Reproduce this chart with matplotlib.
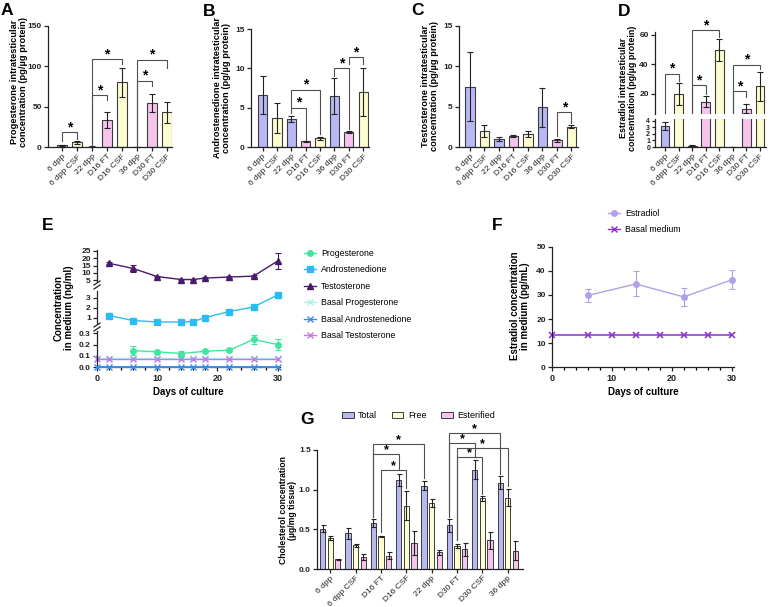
import matplotlib
matplotlib.use('Agg')
import matplotlib.pyplot as plt
from matplotlib.lines import Line2D
from matplotlib.patches import Patch
from matplotlib.ticker import MultipleLocator
import numpy as np

plt.rcParams['font.family'] = ['Liberation Sans', 'DejaVu Sans']
plt.rcParams['axes.linewidth'] = 0.9

# ---------------- data: panels A-D (intratesticular hormones) ----------------
categories = ['6 dpp', '6 dpp CSF', '22 dpp', 'D16 FT', 'D16 CSF', '36 dpp', 'D30 FT', 'D30 CSF']
condition = ['dpp', 'CSF', 'dpp', 'FT', 'CSF', 'dpp', 'FT', 'CSF']

progesterone_mean = [2.0, 6.0, 0.5, 34.0, 80.0, 0.2, 55.0, 43.0]
progesterone_err = [0.6, 2.0, 0.2, 10.0, 18.0, 0.1, 11.0, 13.0]
androstenedione_mean = [6.6, 3.7, 3.6, 0.7, 1.1, 6.5, 1.9, 7.0]
androstenedione_err = [2.4, 1.9, 0.4, 0.06, 0.2, 2.3, 0.12, 3.0]
testosterone_mean = [7.5, 2.0, 1.0, 1.35, 1.6, 4.9, 0.85, 2.5]
testosterone_err = [4.3, 0.7, 0.25, 0.15, 0.4, 2.4, 0.2, 0.2]
estradiol_mean = [3.2, 19.5, 0.2, 14.5, 50.0, 0.05, 9.5, 25.0]
estradiol_err = [0.6, 7.5, 0.1, 3.5, 7.5, 0.02, 3.0, 10.0]

# significance: (index 1, index 2, bracket height, left leg end, right leg end)
sig_A = [(0, 1, 18.5, 8, 10), (2, 3, 64, 1, 58), (2, 4, 109, 1, 103), (5, 6, 82, 1, 76), (5, 7, 108, 1, 98)]
sig_B = [(2, 3, 5.0, 4.3, 0.9), (2, 4, 7.3, 5.0, 1.6), (5, 6, 10.0, 9.0, 2.3), (6, 7, 11.4, 10.6, 10.5)]
sig_C = [(6, 7, 4.35, 1.4, 3.0)]
sig_D = [(0, 1, 33.5, 7, 28.5), (2, 3, 25.6, 7, 19.5), (2, 4, 63.4, 7, 58.5), (5, 6, 21.6, 7, 17.5), (5, 7, 39.7, 7, 36.5)]

# ---------------- data: panel E (steroids in medium, ng/ml) ----------------
days_steroid = [2, 6, 10, 14, 16, 18, 22, 26, 30]
testosterone_medium = [16.5, 13.0, 7.5, 5.5, 5.5, 6.5, 7.2, 7.8, 18.0]
testosterone_medium_err = [0.8, 2.5, 0.5, 0.4, 0.4, 0.4, 0.5, 0.5, 5.5]
androstenedione_medium = [1.25, 0.75, 0.6, 0.6, 0.65, 1.05, 1.65, 2.1, 3.3]
androstenedione_medium_err = [0.08, 0.05, 0.04, 0.04, 0.05, 0.06, 0.08, 0.1, 0.25]
days_progesterone = [6, 10, 14, 18, 22, 26, 30]
progesterone_medium = [0.145, 0.135, 0.12, 0.14, 0.15, 0.245, 0.2]
progesterone_medium_err = [0.04, 0.01, 0.02, 0.01, 0.01, 0.04, 0.05]
days_basal = [0, 2, 6, 10, 14, 16, 18, 22, 26, 30]
basal_progesterone = [0.08, 0.08, 0.08, 0.08, 0.08, 0.08, 0.08, 0.08, 0.08, 0.08]
basal_androstenedione = [0.0, 0.0, 0.0, 0.0, 0.0, 0.0, 0.0, 0.0, 0.0, 0.0]
basal_testosterone = [0.07, 0.07, 0.07, 0.07, 0.07, 0.07, 0.07, 0.07, 0.07, 0.07]

# ---------------- data: panel F (estradiol in medium, pg/mL) ----------------
days_estradiol = [6, 14, 22, 30]
estradiol_medium = [29.8, 34.6, 29.2, 36.3]
estradiol_medium_err = [2.8, 5.2, 3.6, 4.0]
days_basal_F = [0, 6, 10, 14, 18, 22, 26, 30]
basal_medium = [13.2, 13.2, 13.2, 13.2, 13.2, 13.2, 13.2, 13.2]

# ---------------- data: panel G (cholesterol) ----------------
chol_categories = ['6 dpp', '6 dpp CSF', 'D16 FT', 'D16 CSF', '22 dpp', 'D30 FT', 'D30 CSF', '36 dpp']
chol_series = ['Total', 'Free', 'Esterified']
chol_total = [0.51, 0.45, 0.58, 1.12, 1.05, 0.55, 1.25, 1.09]
chol_total_err = [0.04, 0.07, 0.05, 0.08, 0.06, 0.08, 0.12, 0.08]
chol_free = [0.39, 0.30, 0.41, 0.80, 0.83, 0.29, 0.89, 0.90]
chol_free_err = [0.03, 0.02, 0.01, 0.18, 0.05, 0.02, 0.03, 0.11]
chol_ester = [0.12, 0.15, 0.17, 0.33, 0.21, 0.25, 0.36, 0.23]
chol_ester_err = [0.005, 0.04, 0.05, 0.15, 0.03, 0.08, 0.11, 0.12]
# (category 1, series 1, category 2, series 2, height, left leg end, right leg end)
sig_G = [(2, 0, 4, 0, 1.57, 0.66, 1.15), (2, 0, 3, 0, 1.45, 0.66, 1.25), (2, 1, 3, 1, 1.25, 0.47, 1.02),
         (5, 0, 7, 0, 1.71, 0.66, 1.20), (5, 0, 6, 0, 1.59, 0.66, 1.41), (5, 1, 7, 1, 1.52, 0.36, 1.05),
         (5, 1, 6, 1, 1.41, 0.36, 0.95)]

# ---------------- styling ----------------
fill = {'dpp': '#b8b8f4', 'CSF': '#fdfdd2', 'FT': '#f6c4ec'}
EDGE = '#3c3c3c'
BRK = '#505050'
W, H = 770, 607
fig = plt.figure(figsize=(W / 100, H / 100), dpi=100)


def rect(l, t, r, b):
    return [l / W, 1 - b / H, (r - l) / W, (b - t) / H]


def style(ax, bottom=True):
    ax.spines['top'].set_visible(False)
    ax.spines['right'].set_visible(False)
    for s in ['left', 'bottom']:
        ax.spines[s].set_color('#222222')
    if not bottom:
        ax.spines['bottom'].set_visible(False)
        ax.tick_params(axis='x', bottom=False, labelbottom=False)
    ax.tick_params(direction='out', length=3, width=0.9, labelsize=6, pad=1.5, colors='#222222')
    ax.patch.set_alpha(0)
    for lab in ax.get_yticklabels():
        lab.set_fontweight('bold')


def bars(ax, means, errs):
    x = np.arange(len(means))
    cols = [fill[c] for c in condition]
    ax.bar(x, means, width=0.64, color=cols, edgecolor=EDGE, linewidth=0.8, zorder=2)
    ax.errorbar(x, means, yerr=errs, fmt='none', ecolor='#222222', elinewidth=0.8,
                capsize=2.3, capthick=0.8, zorder=3)


def cat_labels(ax, labels, fs=6):
    ax.set_xticks(np.arange(len(labels)))
    ax.set_xticklabels(labels, rotation=45, ha='right', va='top', rotation_mode='anchor', fontsize=fs)


def bracket(ax, x1, x2, y, yl, yr, fs=10):
    ax.plot([x1, x1, x2, x2], [yl, y, y, yr], color=BRK, lw=0.8, clip_on=False, zorder=4,
            solid_joinstyle='miter')
    ax.annotate('*', xy=((x1 + x2) / 2, y), xytext=(0, -1.5), textcoords='offset points',
                ha='center', va='bottom', fontsize=fs, fontweight='bold', annotation_clip=False)


def ylab(x, y, text, fs=7):
    fig.text(x / W, 1 - y / H, text, rotation=90, ha='center', va='center',
             fontsize=fs, fontweight='bold', linespacing=1.1)


def panel_label(x, y, s):
    fig.text(x / W, 1 - y / H, s, fontsize=12.5, fontweight='bold', ha='left', va='top')


# ---------------- panel A ----------------
axA = fig.add_axes(rect(48, 26, 172, 147))
bars(axA, progesterone_mean, progesterone_err)
axA.set_ylim(0, 150)
axA.set_yticks([0, 50, 100, 150])
axA.set_xlim(-0.95, 7.35)
cat_labels(axA, categories)
style(axA)
for s in sig_A:
    bracket(axA, *s)
ylab(19, 82, 'Progesterone intratesticular\nconcentration (pg/µg protein)', fs=6.7)
panel_label(1, 3, 'A')

# ---------------- panel B ----------------
axB = fig.add_axes(rect(251, 29, 369, 147))
bars(axB, androstenedione_mean, androstenedione_err)
axB.set_ylim(0, 15)
axB.set_yticks([0, 5, 10, 15])
axB.set_xlim(-0.8, 7.4)
cat_labels(axB, categories)
style(axB)
for s in sig_B:
    bracket(axB, *s)
ylab(222, 88, 'Androstenedione intratesticular\nconcentration (pg/µg protein)', fs=6.7)
panel_label(203, 4, 'B')

# ---------------- panel C ----------------
axC = fig.add_axes(rect(459, 26, 578, 147))
bars(axC, testosterone_mean, testosterone_err)
axC.set_ylim(0, 15)
axC.set_yticks([0, 5, 10, 15])
axC.set_xlim(-0.75, 7.45)
cat_labels(axC, categories)
style(axC)
for s in sig_C:
    bracket(axC, *s)
ylab(430, 86, 'Testosterone intratesticular\nconcentration (pg/µg protein)', fs=6.7)
panel_label(411, 3, 'C')

# ---------------- panel D (broken axis) ----------------
axDu = fig.add_axes(rect(655, 32, 766, 114))
axDl = fig.add_axes(rect(655, 119, 766, 147))
for ax in (axDu, axDl):
    bars(ax, estradiol_mean, estradiol_err)
    ax.set_xlim(-0.75, 7.45)
axDu.set_ylim(6, 62)
axDu.set_yticks([20, 40, 60])
axDl.set_ylim(0, 4.3)
axDl.set_yticks([0, 1, 2, 3, 4])
cat_labels(axDl, categories)
style(axDu, bottom=False)
style(axDl)
axDl.tick_params(axis='y', labelsize=5, length=2)
for s in sig_D:
    bracket(axDu, *s)
ylab(628, 88, 'Estradiol intratesticular\nconcentration (pg/µg protein)', fs=6.4)
panel_label(618, 4, 'D')

# ---------------- panel E (broken axis, 3 segments) ----------------
c_prog, c_andro, c_testo = '#3fe6a0', '#2cbcf4', '#4a1a6c'
c_bprog, c_bandro, c_btesto = '#aaf2e2', '#3a8ee8', '#c27ae8'
axEt = fig.add_axes(rect(97, 250, 280, 281))
axEm = fig.add_axes(rect(97, 291, 280, 323))
axEb = fig.add_axes(rect(97, 331, 280, 367))
for ax in (axEt, axEm, axEb):
    ax.set_xlim(0, 30.4)
axEt.set_ylim(4.5, 25.5)
axEt.set_yticks([5, 10, 15, 20, 25])
axEm.set_ylim(0.5, 3.7)
axEm.set_yticks([1, 2, 3])
axEb.set_ylim(0, 0.32)
axEb.set_yticks([0.0, 0.1, 0.2, 0.3])
axEb.set_yticklabels(['0.0', '0.1', '0.2', '0.3'])

lk = dict(lw=1.0, ms=4, capsize=2, elinewidth=0.8, capthick=0.8, clip_on=False)
axEt.errorbar(days_steroid, testosterone_medium, yerr=testosterone_medium_err, color=c_testo,
              marker='^', **lk)
axEm.errorbar(days_steroid, androstenedione_medium, yerr=androstenedione_medium_err, color=c_andro,
              marker='s', **lk)
axEb.errorbar(days_progesterone, progesterone_medium, yerr=progesterone_medium_err, color=c_prog,
              marker='o', **lk)
axEb.plot(days_basal, basal_progesterone, color=c_bprog, marker='x', ms=4, mew=1.0, lw=1.0, clip_on=False)
axEb.plot(days_basal, basal_testosterone, color=c_btesto, marker='x', ms=4, mew=1.0, lw=1.0, clip_on=False)
axEb.plot(days_basal, basal_androstenedione, color=c_bandro, marker='x', ms=4, mew=1.0, lw=1.4,
          clip_on=False, zorder=5)
style(axEt, bottom=False)
style(axEm, bottom=False)
style(axEb)
axEb.set_xticks([0, 10, 20, 30])
axEb.xaxis.set_minor_locator(MultipleLocator(2))
axEb.tick_params(axis='x', which='minor', length=2, width=0.9, direction='out')
axEb.tick_params(axis='x', labelsize=6.5, pad=2)
for lab in axEb.get_xticklabels():
    lab.set_fontweight('bold')
axEb.set_xlabel('Days of culture', fontsize=7, fontweight='bold', labelpad=3)
ylab(64, 308, 'Concentration\nin medium (ng/ml)')
# break marks
for yb in (283, 325):
    for dy in (0, 4):
        fig.add_artist(Line2D([(97 - 3) / W, (97 + 3) / W], [1 - (yb + dy + 2) / H, 1 - (yb + dy - 2) / H],
                              color='#222222', lw=0.9))
panel_label(42, 218, 'E')
leg_handles = [Line2D([], [], color=c_prog, marker='o', ms=4, lw=1),
               Line2D([], [], color=c_andro, marker='s', ms=4, lw=1),
               Line2D([], [], color=c_testo, marker='^', ms=4, lw=1),
               Line2D([], [], color=c_bprog, marker='x', ms=4, lw=1),
               Line2D([], [], color=c_bandro, marker='x', ms=4, lw=1),
               Line2D([], [], color=c_btesto, marker='x', ms=4, lw=1)]
leg_labels = ['Progesterone', 'Androstenedione', 'Testosterone', 'Basal Progesterone',
              'Basal Androstenedione', 'Basal Testosterone']
fig.legend(leg_handles, leg_labels, loc='upper left', bbox_to_anchor=(304 / W, 1 - 249 / H),
           frameon=False, fontsize=6.3, handlelength=1.35, handletextpad=0.6, labelspacing=0.85,
           borderaxespad=0, borderpad=0)

# ---------------- panel F ----------------
c_estr, c_bmed = '#b2a0ea', '#8a2fd0'
axF = fig.add_axes(rect(552, 247, 734, 367))
axF.errorbar(days_estradiol, estradiol_medium, yerr=estradiol_medium_err, color=c_estr, marker='o', **lk)
axF.plot(days_basal_F, basal_medium, color=c_bmed, marker='x', ms=4, mew=1.1, lw=1.1, clip_on=False)
axF.set_xlim(0, 30.4)
axF.set_ylim(0, 50)
axF.set_yticks([0, 10, 20, 30, 40, 50])
axF.set_xticks([0, 10, 20, 30])
axF.xaxis.set_minor_locator(MultipleLocator(2))
style(axF)
axF.tick_params(axis='x', which='minor', length=2, width=0.9, direction='out')
axF.tick_params(axis='x', labelsize=6.5, pad=2)
for lab in axF.get_xticklabels():
    lab.set_fontweight('bold')
axF.set_xlabel('Days of culture', fontsize=7, fontweight='bold', labelpad=3)
ylab(520, 306, 'Estradiol concentration\nin medium (pg/mL)')
panel_label(492, 218, 'F')
fig.legend([Line2D([], [], color=c_estr, marker='o', ms=4, lw=1),
            Line2D([], [], color=c_bmed, marker='x', ms=4, lw=1)],
           ['Estradiol', 'Basal medium'], loc='upper left', bbox_to_anchor=(608 / W, 1 - 209 / H),
           frameon=False, fontsize=6.3, handlelength=1.35, handletextpad=0.6, labelspacing=0.85,
           borderaxespad=0, borderpad=0)

# ---------------- panel G ----------------
g_cols = ['#b9b9f2', '#fdfdd2', '#f6c4ec']
axG = fig.add_axes(rect(317, 450, 523, 569))
xg = np.arange(len(chol_categories))
offs = [-0.3, 0.0, 0.3]
for k, (vals, errs) in enumerate([(chol_total, chol_total_err), (chol_free, chol_free_err),
                                   (chol_ester, chol_ester_err)]):
    axG.bar(xg + offs[k], vals, width=0.21, color=g_cols[k], edgecolor=EDGE, linewidth=0.7, zorder=2)
    axG.errorbar(xg + offs[k], vals, yerr=errs, fmt='none', ecolor='#222222', elinewidth=0.8,
                 capsize=1.8, capthick=0.8, zorder=3)
axG.set_ylim(0, 1.5)
axG.set_yticks([0.0, 0.5, 1.0, 1.5])
axG.set_yticklabels(['0.0', '0.5', '1.0', '1.5'])
axG.set_xlim(-0.52, 7.6)
cat_labels(axG, chol_categories, fs=5.2)
style(axG)
axG.tick_params(axis='x', pad=1)
for c1, s1, c2, s2, h, yl, yr in sig_G:
    bracket(axG, c1 + offs[s1], c2 + offs[s2], h, yl, yr, fs=9)
ylab(288, 510, 'Cholesterol concentration\n(µg/mg tissue)', fs=6.2)
panel_label(300, 412, 'G')
fig.legend([Patch(facecolor=g_cols[k], edgecolor=EDGE, linewidth=0.7) for k in range(3)], chol_series,
           loc='center left', bbox_to_anchor=(342 / W, 1 - 416 / H), ncol=3, frameon=False, fontsize=6.5,
           handlelength=1.3, handleheight=0.6, handletextpad=0.5, columnspacing=1.6, borderaxespad=0,
           borderpad=0)

fig.savefig('out.png', dpi=100)
